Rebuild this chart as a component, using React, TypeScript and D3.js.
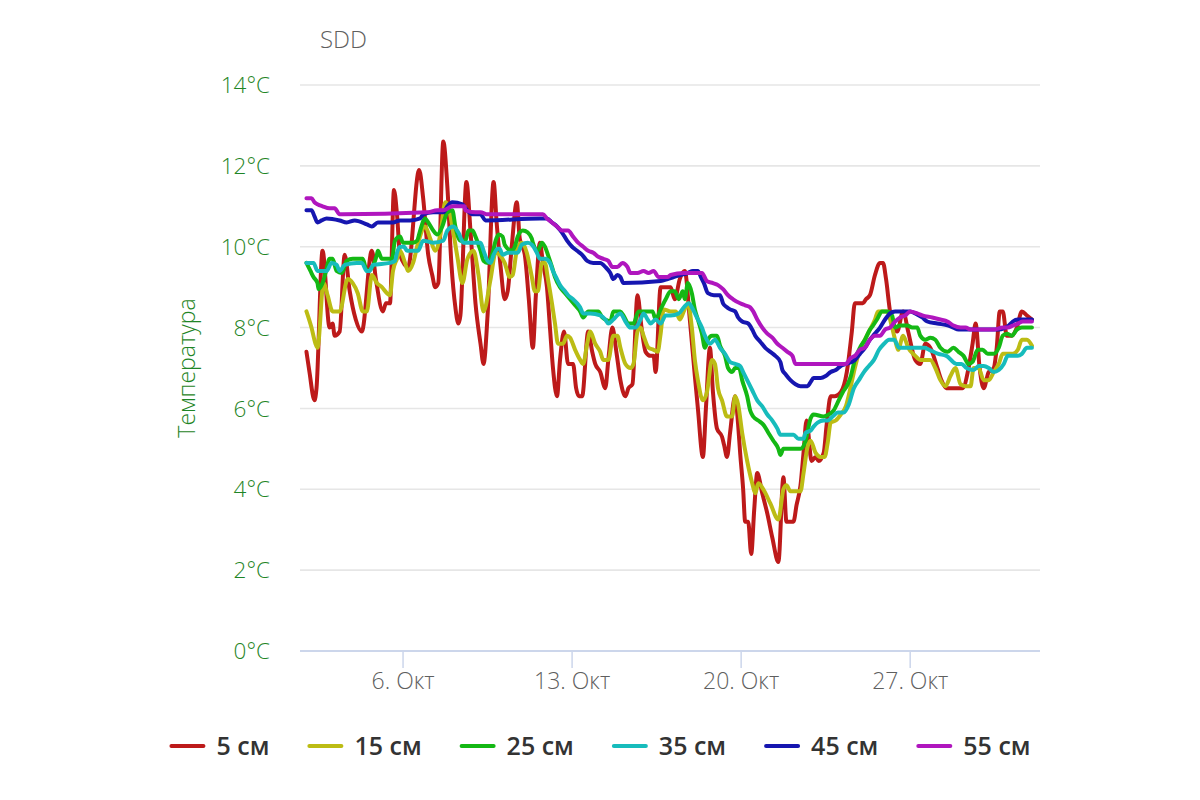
import { useEffect, useRef } from "react";
import * as d3 from "d3";

// [hours since 2 Oct 00:00, temperature °C]
type Pt = [number, number];

const START = Date.UTC(2023, 9, 2);
const chartTitle = "SDD";
const yTitle = "Температура";
const monthLabel = "Окт";
const yTicks = [0, 2, 4, 6, 8, 10, 12, 14];
const xTickDays = [6, 13, 20, 27];
const seriesNames = ["5 см", "15 см", "25 см", "35 см", "45 см", "55 см"];
const seriesColors = ["#bd1a1a", "#bcbc14", "#14b814", "#17bcbc", "#1616b0", "#b016be"];

const d5: Pt[] = [
  [0, 7.4], [3, 6.9], [8, 6.2], [10, 6.5], [16, 9.9], [23, 8.0], [26, 8.1], [28, 7.8], [33, 7.9],
  [38, 9.8], [43, 8.9], [49, 8.2], [55, 7.9], [65, 9.9], [69, 9.2], [76, 8.4], [79, 8.6], [83, 8.6],
  [87, 11.4], [90, 10.8], [93, 9.8], [101, 9.5], [112, 11.9], [116, 11.2], [121, 9.8], [125, 9.3],
  [128, 9.0], [131, 9.1], [136, 12.6], [140, 11.5], [144, 9.6], [148, 8.5], [151, 8.1], [153, 8.3],
  [159, 11.6], [163, 10.4], [168, 8.6], [173, 7.6], [176, 7.1], [180, 8.3], [186, 11.6], [189, 10.6],
  [193, 9.5], [197, 8.7], [200, 8.9], [204, 10.0], [209, 11.1], [212, 10.2], [217, 9.8], [221, 8.7],
  [225, 7.5], [228, 8.8], [232, 10.1], [235, 9.6], [239, 9.0], [242, 8.0], [245, 7.0], [249, 6.3],
  [252, 7.2], [256, 7.9], [260, 7.1], [265, 7.1], [268, 6.5], [271, 6.3], [274, 6.3], [280, 7.9],
  [284, 7.4], [287, 7.1], [292, 6.9], [297, 6.5], [300, 7.2], [304, 8.0], [308, 7.4], [312, 6.7],
  [317, 6.3], [320, 6.5], [324, 6.6], [329, 8.8], [333, 8.0], [337, 7.4], [342, 7.3], [345, 7.3],
  [347, 6.9], [352, 9.0], [357, 9.0], [362, 9.0], [366, 8.7], [371, 9.2], [376, 9.4], [381, 8.2],
  [386, 6.8], [389, 6.0], [394, 4.8], [397, 6.0], [401, 7.5], [404, 6.4], [408, 5.5], [413, 5.3],
  [415, 5.1], [418, 4.8], [421, 5.4], [426, 6.3], [429, 5.6], [431, 4.9], [434, 4.0], [436, 3.2],
  [439, 3.2], [442, 2.4], [445, 3.5], [448, 4.4], [453, 3.9], [458, 3.4], [463, 2.8], [469, 2.2],
  [474, 4.3], [477, 3.2], [484, 3.2], [487, 3.6], [491, 4.1], [494, 4.9], [497, 5.7], [502, 4.7],
  [506, 4.8], [509, 4.7], [514, 4.9], [517, 5.6], [521, 6.3], [525, 6.3], [531, 6.4], [537, 6.9],
  [542, 7.9], [545, 8.6], [553, 8.6], [556, 8.7], [560, 8.8], [565, 9.3], [570, 9.6], [573, 9.6],
  [576, 9.2], [580, 8.4], [587, 7.9], [593, 8.4], [598, 7.9], [605, 7.2], [610, 7.1], [615, 7.6],
  [620, 7.5], [627, 7.0], [631, 6.7], [636, 6.5], [645, 6.5], [652, 6.5], [658, 7.0], [662, 7.6],
  [665, 8.1], [669, 7.0], [673, 6.5], [678, 6.9], [683, 7.0], [686, 7.5], [689, 8.4], [692, 8.4],
  [696, 7.8], [701, 7.8], [706, 8.0], [711, 8.4], [716, 8.3], [721, 8.2],
];

const d15: Pt[] = [
  [0, 8.4], [5, 8.0], [9, 7.6], [11, 7.5], [17, 9.1], [21, 8.8], [26, 8.4], [33, 8.4], [41, 9.2],
  [46, 9.1], [51, 8.85], [56, 8.4], [60, 8.4], [65, 9.3], [70, 9.1], [75, 9.0], [80, 8.85], [83, 8.8],
  [86, 9.4], [90, 9.7], [93, 9.9], [98, 9.6], [101, 9.4], [106, 9.6], [111, 10.1], [118, 10.5],
  [123, 10.2], [128, 9.9], [133, 10.3], [138, 11.1], [141, 11.0], [145, 10.5], [150, 9.75], [155, 9.1],
  [160, 9.7], [166, 9.9], [171, 9.3], [176, 8.4], [183, 9.2], [188, 9.85], [192, 9.8], [197, 9.6],
  [202, 9.25], [205, 9.3], [209, 9.9], [214, 10.1], [219, 9.85], [224, 9.25], [227, 8.9], [230, 8.9],
  [234, 9.6], [237, 9.6], [240, 9.2], [244, 8.6], [247, 8.1], [250, 7.6], [255, 7.6], [259, 7.8],
  [262, 7.75], [267, 7.45], [272, 7.2], [275, 7.1], [279, 7.6], [282, 7.9], [287, 7.6], [292, 7.4],
  [295, 7.2], [300, 7.2], [305, 7.8], [309, 7.8], [312, 7.5], [317, 7.1], [322, 7.0], [325, 7.1],
  [329, 7.9], [332, 8.0], [335, 7.8], [340, 7.5], [345, 7.45], [349, 7.4], [352, 7.85], [355, 8.45],
  [362, 8.4], [367, 8.4], [371, 8.2], [375, 8.4], [379, 8.6], [383, 8.0], [386, 7.2], [389, 6.7],
  [394, 6.2], [398, 6.4], [403, 7.2], [406, 7.1], [409, 6.5], [413, 6.2], [418, 5.8], [423, 5.8],
  [426, 6.3], [429, 6.1], [433, 5.4], [438, 4.7], [443, 4.15], [446, 3.9], [449, 4.15], [454, 4.0],
  [461, 3.65], [469, 3.25], [474, 4.0], [477, 4.1], [481, 3.95], [491, 3.95], [494, 4.4], [498, 5.05],
  [501, 5.2], [506, 4.9], [511, 4.8], [515, 4.8], [518, 5.15], [521, 5.65], [526, 5.7], [531, 5.85],
  [536, 6.05], [541, 6.55], [545, 7.0], [550, 7.45], [555, 7.7], [560, 7.95], [565, 8.2], [568, 8.4],
  [577, 8.4], [582, 8.0], [585, 7.7], [588, 7.45], [593, 7.8], [598, 7.5], [605, 7.3], [610, 7.2],
  [620, 7.2], [625, 7.0], [630, 6.7], [635, 6.55], [640, 6.8], [645, 7.0], [650, 6.6], [655, 6.55],
  [660, 6.55], [663, 7.0], [668, 7.0], [673, 6.7], [678, 6.7], [683, 6.9], [688, 7.1], [692, 7.35],
  [702, 7.35], [707, 7.45], [711, 7.7], [716, 7.7], [721, 7.55],
];

const d25: Pt[] = [
  [0, 9.6], [4, 9.4], [7, 9.25], [11, 9.1], [12, 8.95], [16, 9.1], [19, 9.35], [23, 9.7], [26, 9.7],
  [30, 9.4], [35, 9.35], [40, 9.65], [46, 9.7], [56, 9.7], [60, 9.4], [64, 9.45], [70, 9.8], [71, 9.9],
  [75, 9.7], [85, 9.7], [88, 10.15], [93, 10.25], [96, 10.1], [106, 10.1], [110, 10.15], [113, 10.4],
  [118, 10.7], [121, 10.6], [126, 10.4], [130, 10.3], [135, 10.5], [140, 10.85], [145, 10.9],
  [148, 10.5], [153, 10.15], [158, 10.15], [161, 10.4], [165, 10.4], [168, 10.25], [173, 9.9],
  [176, 9.65], [180, 9.6], [185, 9.85], [188, 10.15], [191, 10.3], [195, 10.25], [197, 10.05],
  [204, 9.9], [207, 10.0], [210, 10.25], [215, 10.4], [220, 10.35], [224, 10.2], [225, 10.1],
  [230, 9.9], [234, 10.1], [237, 10.0], [240, 9.8], [244, 9.5], [247, 9.25], [252, 9.0], [257, 8.85],
  [262, 8.7], [267, 8.55], [272, 8.4], [275, 8.25], [280, 8.4], [290, 8.4], [294, 8.25], [297, 8.2],
  [302, 8.15], [305, 8.4], [312, 8.4], [315, 8.3], [320, 8.1], [325, 8.1], [330, 8.4], [339, 8.4],
  [344, 8.4], [347, 8.2], [352, 8.45], [357, 8.7], [362, 8.9], [366, 8.9], [370, 8.7], [374, 8.9],
  [376, 8.7], [379, 9.1], [383, 8.85], [386, 8.45], [389, 8.2], [393, 7.85], [396, 7.5], [399, 7.7],
  [403, 7.8], [408, 7.8], [411, 7.55], [416, 7.3], [419, 7.0], [423, 6.9], [426, 7.0], [430, 7.0],
  [433, 6.7], [438, 6.3], [441, 5.95], [444, 5.8], [449, 5.7], [454, 5.6], [459, 5.4], [464, 5.2],
  [469, 5.0], [471, 4.85], [474, 5.0], [491, 5.0], [496, 5.2], [501, 5.75], [504, 5.85], [514, 5.8],
  [519, 5.85], [524, 5.95], [528, 6.15], [533, 6.4], [538, 6.6], [541, 6.8], [545, 7.2], [550, 7.5],
  [555, 7.7], [560, 7.95], [563, 8.05], [567, 8.2], [572, 8.4], [577, 8.4], [582, 8.3], [585, 8.0],
  [590, 8.05], [597, 8.05], [602, 8.0], [607, 8.0], [610, 7.8], [615, 7.7], [620, 7.75], [625, 7.7],
  [630, 7.5], [637, 7.4], [643, 7.5], [648, 7.4], [653, 7.3], [658, 7.1], [662, 7.15], [667, 7.45],
  [672, 7.45], [677, 7.35], [683, 7.35], [688, 7.5], [692, 7.8], [696, 7.85], [701, 7.8], [706, 7.95],
  [711, 8.0], [721, 8.0],
];

const d35: Pt[] = [
  [0, 9.6], [7, 9.6], [11, 9.4], [20, 9.4], [25, 9.6], [30, 9.55], [33, 9.4], [38, 9.55], [50, 9.6],
  [55, 9.6], [60, 9.4], [63, 9.4], [66, 9.55], [83, 9.6], [88, 9.65], [90, 9.85], [93, 10.0], [97, 10.0],
  [100, 9.9], [111, 9.9], [116, 10.15], [126, 10.1], [136, 10.15], [140, 10.4], [146, 10.5],
  [151, 10.35], [156, 10.1], [163, 10.1], [173, 10.1], [176, 9.9], [180, 9.65], [183, 9.6], [186, 9.8],
  [190, 9.95], [192, 9.95], [195, 9.8], [200, 9.85], [205, 9.85], [210, 9.85], [214, 10.05], [220, 10.1],
  [224, 10.05], [229, 9.85], [232, 9.7], [237, 9.7], [242, 9.6], [245, 9.4], [249, 9.2], [252, 9.05],
  [257, 8.9], [260, 8.8], [265, 8.7], [269, 8.6], [272, 8.5], [275, 8.35], [282, 8.35], [292, 8.3],
  [297, 8.2], [300, 8.1], [305, 8.2], [312, 8.35], [317, 8.15], [322, 8.0], [327, 8.0], [332, 8.2],
  [335, 8.35], [339, 8.2], [342, 8.1], [347, 8.2], [352, 8.1], [357, 8.3], [362, 8.3], [370, 8.35],
  [375, 8.5], [380, 8.6], [383, 8.5], [388, 8.25], [393, 8.0], [396, 7.8], [401, 7.6], [406, 7.7],
  [411, 7.5], [416, 7.35], [421, 7.15], [426, 7.1], [431, 7.05], [434, 6.9], [438, 6.7], [443, 6.45],
  [448, 6.2], [453, 6.05], [458, 5.85], [463, 5.7], [468, 5.5], [471, 5.35], [484, 5.35], [489, 5.25],
  [494, 5.25], [496, 5.4], [501, 5.45], [504, 5.55], [508, 5.65], [514, 5.7], [518, 5.7], [523, 5.8],
  [528, 5.9], [534, 5.9], [539, 6.1], [544, 6.5], [549, 6.7], [554, 6.9], [559, 7.05], [564, 7.2],
  [569, 7.45], [574, 7.6], [579, 7.7], [584, 7.7], [589, 7.5], [594, 7.5], [604, 7.5], [614, 7.5],
  [619, 7.45], [628, 7.35], [636, 7.3], [646, 7.1], [651, 7.1], [656, 7.0], [663, 6.95], [668, 7.05],
  [673, 7.05], [678, 7.0], [683, 6.9], [688, 6.95], [693, 7.1], [697, 7.3], [707, 7.3], [711, 7.35],
  [716, 7.5], [721, 7.5],
];

const d45: Pt[] = [
  [0, 10.9], [5, 10.9], [8, 10.75], [11, 10.6], [15, 10.65], [20, 10.7], [33, 10.65], [40, 10.6],
  [48, 10.65], [60, 10.55], [65, 10.5], [71, 10.6], [86, 10.6], [93, 10.65], [103, 10.65], [113, 10.7],
  [116, 10.8], [126, 10.85], [136, 10.85], [140, 11.0], [145, 11.1], [155, 11.05], [158, 10.95],
  [165, 10.8], [173, 10.8], [178, 10.65], [232, 10.7], [239, 10.7], [244, 10.6], [249, 10.5],
  [254, 10.35], [259, 10.15], [264, 10.0], [269, 9.9], [274, 9.8], [279, 9.65], [285, 9.6], [292, 9.6],
  [297, 9.5], [302, 9.35], [305, 9.2], [309, 9.3], [312, 9.25], [315, 9.1], [352, 9.15], [359, 9.2],
  [365, 9.25], [372, 9.3], [379, 9.35], [384, 9.4], [389, 9.4], [392, 9.25], [395, 9.1], [399, 8.85],
  [405, 8.8], [411, 8.8], [414, 8.6], [418, 8.5], [421, 8.45], [426, 8.4], [429, 8.25], [433, 8.15],
  [439, 8.1], [443, 7.95], [446, 7.8], [451, 7.65], [456, 7.5], [461, 7.4], [466, 7.3], [471, 7.15],
  [473, 6.95], [476, 6.85], [481, 6.7], [486, 6.6], [491, 6.55], [498, 6.55], [501, 6.65], [504, 6.75],
  [511, 6.75], [516, 6.8], [521, 6.9], [526, 6.95], [531, 7.05], [536, 7.1], [545, 7.2], [550, 7.35],
  [555, 7.5], [560, 7.7], [565, 7.85], [570, 8.0], [575, 8.2], [580, 8.35], [585, 8.4], [600, 8.4],
  [605, 8.35], [612, 8.25], [617, 8.15], [627, 8.1], [638, 8.05], [643, 8.0], [648, 7.95], [688, 7.95],
  [698, 8.05], [702, 8.15], [707, 8.2], [721, 8.2],
];

const d55: Pt[] = [
  [0, 11.2], [5, 11.2], [8, 11.1], [11, 11.05], [16, 11.0], [23, 10.95], [28, 10.95], [33, 10.8],
  [36, 10.8], [120, 10.85], [130, 10.9], [136, 10.9], [145, 11.0], [157, 11.0], [158, 10.9],
  [168, 10.85], [173, 10.85], [180, 10.8], [235, 10.8], [239, 10.7], [244, 10.6], [249, 10.5],
  [254, 10.4], [260, 10.4], [265, 10.25], [270, 10.1], [275, 10.0], [280, 9.9], [285, 9.85], [290, 9.75],
  [295, 9.7], [300, 9.65], [304, 9.5], [309, 9.5], [314, 9.6], [319, 9.5], [322, 9.35], [329, 9.35],
  [335, 9.4], [340, 9.35], [345, 9.4], [350, 9.25], [359, 9.25], [362, 9.3], [375, 9.35], [393, 9.35],
  [398, 9.15], [404, 9.1], [409, 9.05], [414, 8.95], [419, 8.8], [424, 8.7], [431, 8.6], [436, 8.55],
  [441, 8.5], [444, 8.4], [448, 8.2], [453, 8.0], [458, 7.85], [463, 7.75], [468, 7.6], [473, 7.5],
  [478, 7.4], [483, 7.3], [486, 7.1], [531, 7.1], [536, 7.1], [541, 7.25], [545, 7.3], [550, 7.45],
  [555, 7.5], [560, 7.7], [565, 7.8], [570, 7.8], [575, 7.95], [580, 8.0], [585, 8.15], [590, 8.25],
  [595, 8.3], [600, 8.4], [607, 8.35], [612, 8.3], [622, 8.25], [630, 8.2], [637, 8.15], [643, 8.05],
  [650, 8.0], [655, 8.0], [660, 7.95], [683, 7.95], [692, 8.0], [697, 8.0], [702, 8.05], [707, 8.1],
  [712, 8.15], [721, 8.15],
];

const seriesData = [d5, d15, d25, d35, d45, d55];

const FONT = "'Open Sans', 'Noto Sans', sans-serif";

const App = () => {
  const svgRef = useRef<SVGSVGElement | null>(null);

  useEffect(() => {
    const svg = d3.select(svgRef.current);
    svg.selectAll("*").remove();

    const width = 1200;
    const height = 800;
    const plot = { left: 300, right: 1040, top: 85, bottom: 651 };

    svg.attr("width", width).attr("height", height).style("font-family", FONT);

    const hour = (h: number) => new Date(START + h * 3600 * 1000);

    const x = d3
      .scaleUtc()
      .domain([hour(-6.4), hour(729)])
      .range([plot.left, plot.right]);
    const y = d3.scaleLinear().domain([0, 14]).range([plot.bottom, plot.top]);

    // title
    svg.append("text")
      .attr("x", 320)
      .attr("y", 48)
      .style("font-size", "24px")
      .style("font-weight", 300)
      .style("fill", "#5f5f5f")
      .text(chartTitle);

    // grid
    svg.append("g")
      .selectAll("line")
      .data(yTicks.filter((v) => v > 0))
      .enter()
      .append("line")
      .attr("x1", plot.left)
      .attr("x2", plot.right)
      .attr("y1", (d) => y(d))
      .attr("y2", (d) => y(d))
      .attr("stroke", "#e6e6e6")
      .attr("stroke-width", 1.6);

    // y labels
    svg.append("g")
      .selectAll("text")
      .data(yTicks)
      .enter()
      .append("text")
      .attr("x", 270)
      .attr("y", (d) => y(d))
      .attr("dy", "0.36em")
      .attr("text-anchor", "end")
      .style("font-size", "22.5px")
      .style("font-weight", 300)
      .style("fill", "#1f8526")
      .text((d) => `${d}°C`);

    svg.append("text")
      .attr("transform", `translate(195, ${(plot.top + plot.bottom) / 2}) rotate(-90)`)
      .attr("text-anchor", "middle")
      .style("font-size", "23px")
      .style("font-weight", 300)
      .style("fill", "#1f8526")
      .text(yTitle);

    // x axis
    svg.append("line")
      .attr("x1", plot.left)
      .attr("x2", plot.right)
      .attr("y1", plot.bottom)
      .attr("y2", plot.bottom)
      .attr("stroke", "#ccd6eb")
      .attr("stroke-width", 2);

    const xTicks = xTickDays.map((d) => new Date(Date.UTC(2023, 9, d)));
    const xt = svg.append("g").selectAll("g").data(xTicks).enter().append("g");
    xt.append("line")
      .attr("x1", (d) => x(d))
      .attr("x2", (d) => x(d))
      .attr("y1", plot.bottom)
      .attr("y2", plot.bottom + 17)
      .attr("stroke", "#ccd6eb")
      .attr("stroke-width", 1.5);
    xt.append("text")
      .attr("x", (d) => x(d))
      .attr("y", plot.bottom + 30)
      .attr("dy", "0.36em")
      .attr("text-anchor", "middle")
      .style("font-size", "23px")
      .style("font-weight", 300)
      .style("fill", "#5f5f5f")
      .text((d) => `${d.getUTCDate()}. ${monthLabel}`);

    // series
    const line = d3
      .line<Pt>()
      .x((d) => x(hour(d[0])))
      .y((d) => y(d[1]))
      .curve(d3.curveMonotoneX);

    svg.append("g")
      .selectAll("path")
      .data(seriesData)
      .enter()
      .append("path")
      .attr("fill", "none")
      .attr("stroke", (_, i) => seriesColors[i])
      .attr("stroke-width", 4)
      .attr("stroke-linejoin", "round")
      .attr("stroke-linecap", "round")
      .attr("d", (d) => line(d));

    // legend
    const legend = svg.append("g");
    const symW = 32;
    const gap = 13;
    const itemGap = 40;
    let cx = 0;
    seriesNames.forEach((name, i) => {
      const item = legend.append("g").attr("transform", `translate(${cx},0)`);
      item.append("line")
        .attr("x1", 0)
        .attr("x2", symW)
        .attr("y1", 0)
        .attr("y2", 0)
        .attr("stroke", seriesColors[i])
        .attr("stroke-width", 4)
        .attr("stroke-linecap", "round");
      const t = item.append("text")
        .attr("x", symW + gap)
        .attr("dy", "0.36em")
        .style("font-size", "25px")
        .style("font-weight", 600)
        .style("fill", "#333333")
        .text(name);
      const w = (t.node() as SVGTextElement).getComputedTextLength();
      cx += symW + gap + w + itemGap;
    });
    const total = cx - itemGap;
    legend.attr("transform", `translate(${(width - total) / 2 + 1}, 746)`);
  }, []);

  return (
    <div style={{ position: "absolute", left: 0, top: 0, background: "#ffffff" }}>
      <svg ref={svgRef} />
    </div>
  );
};

export default App;
